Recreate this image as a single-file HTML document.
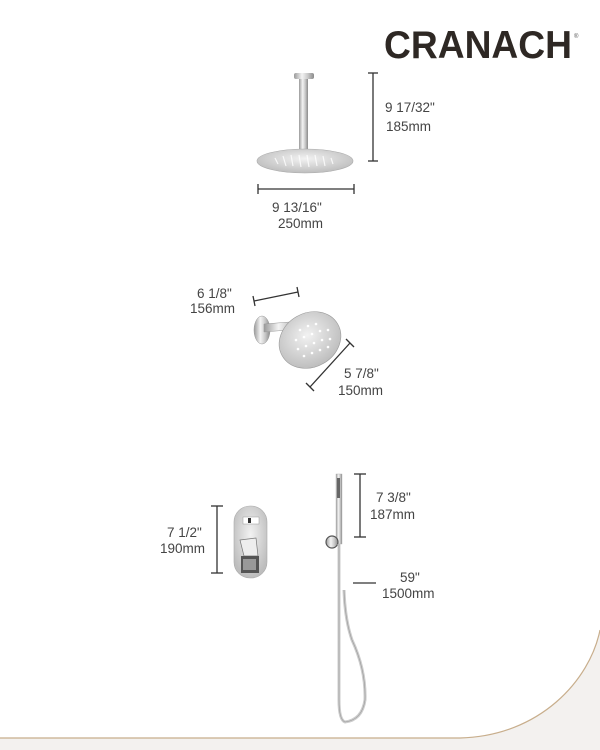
<!DOCTYPE html>
<html><head><meta charset="utf-8"><style>
html,body{margin:0;padding:0;background:#fff}
svg{display:block}
text{font-family:"Liberation Sans",sans-serif;fill:#444}
</style></head><body>
<svg width="600" height="750" viewBox="0 0 600 750" xmlns="http://www.w3.org/2000/svg">
<defs>
<linearGradient id="chrome" x1="0" y1="0" x2="1" y2="0">
<stop offset="0" stop-color="#9a9a9a"/><stop offset="0.4" stop-color="#f4f4f4"/><stop offset="0.7" stop-color="#c8c8c8"/><stop offset="1" stop-color="#8a8a8a"/>
</linearGradient>
<radialGradient id="disc" cx="0.5" cy="0.4" r="0.6">
<stop offset="0" stop-color="#f2f2f2"/><stop offset="1" stop-color="#bdbdbd"/>
</radialGradient>
</defs>
<!-- bottom grey region with curve -->
<path d="M0,738 L460,738 C540,736 590,680 600,630 L600,750 L0,750 Z" fill="#f3f1ef"/>
<path d="M0,738 L460,738 C540,736 590,680 600,630" fill="none" stroke="#c8ae8c" stroke-width="1.2"/>
<!-- logo -->
<text x="384" y="58" font-size="39" font-weight="bold" style="fill:#2e2824" textLength="188" lengthAdjust="spacingAndGlyphs">CRANACH</text>
<text x="574" y="38" font-size="6" style="fill:#555">®</text>
<!-- ceiling shower -->
<rect x="294" y="73" width="20" height="6" rx="2" fill="url(#chrome)"/>
<rect x="299" y="79" width="9" height="70" fill="url(#chrome)"/>
<ellipse cx="305" cy="161" rx="48" ry="12" fill="url(#disc)" stroke="#aaa" stroke-width="0.6"/>
<g stroke="#fff" stroke-width="1.2" opacity="0.8">
<line x1="275" y1="158" x2="278" y2="164"/><line x1="283" y1="156" x2="286" y2="166"/><line x1="291" y1="155" x2="293" y2="166"/><line x1="299" y1="155" x2="301" y2="167"/><line x1="307" y1="155" x2="309" y2="167"/><line x1="315" y1="155" x2="317" y2="166"/><line x1="323" y1="156" x2="325" y2="166"/><line x1="331" y1="158" x2="333" y2="164"/>
</g>
<g stroke="#333" stroke-width="1.3" fill="none">
<line x1="373" y1="73" x2="373" y2="161"/><line x1="368" y1="73" x2="378" y2="73"/><line x1="368" y1="161" x2="378" y2="161"/>
<line x1="258" y1="189" x2="354" y2="189"/><line x1="258" y1="184" x2="258" y2="194"/><line x1="354" y1="184" x2="354" y2="194"/>
<!-- wall arm dims -->
<line x1="254" y1="301" x2="298" y2="292"/><line x1="253" y1="296" x2="255" y2="306"/><line x1="297" y1="287" x2="299" y2="297"/>
<line x1="310" y1="387" x2="350" y2="343"/><line x1="306" y1="383" x2="314" y2="391"/><line x1="346" y1="339" x2="354" y2="347"/>
<!-- valve dims -->
<line x1="217" y1="506" x2="217" y2="573"/><line x1="211" y1="506" x2="223" y2="506"/><line x1="211" y1="573" x2="223" y2="573"/>
<line x1="360" y1="474" x2="360" y2="537"/><line x1="354" y1="474" x2="366" y2="474"/><line x1="354" y1="537" x2="366" y2="537"/>
<line x1="353" y1="583" x2="376" y2="583"/>
</g>
<text x="385" y="112" font-size="13.5">9 17/32"</text>
<text x="386" y="131" font-size="13.5">185mm</text>
<text x="272" y="212" font-size="13.5">9 13/16"</text>
<text x="278" y="228" font-size="13.5">250mm</text>
<text x="197" y="298" font-size="13.5">6 1/8"</text>
<text x="190" y="313" font-size="13.5">156mm</text>
<text x="344" y="378" font-size="13.5">5 7/8"</text>
<text x="338" y="395" font-size="13.5">150mm</text>
<text x="167" y="537" font-size="13.5">7 1/2"</text>
<text x="160" y="553" font-size="13.5">190mm</text>
<text x="376" y="502" font-size="13.5">7 3/8"</text>
<text x="370" y="519" font-size="13.5">187mm</text>
<text x="400" y="582" font-size="13.5">59"</text>
<text x="382" y="598" font-size="13.5">1500mm</text>
<!-- wall shower -->
<ellipse cx="262" cy="330" rx="8" ry="14" fill="url(#chrome)" stroke="#999" stroke-width="0.5"/>
<path d="M264,324 L290,322 Q296,323 300,330 L296,334 Q293,329 288,330 L264,332 Z" fill="url(#chrome)" stroke="#999" stroke-width="0.5"/>
<ellipse cx="310" cy="340" rx="32" ry="27" transform="rotate(-30 310 340)" fill="url(#disc)" stroke="#999" stroke-width="0.6"/>
<g fill="#fff">
<circle cx="300" cy="330" r="1.3"/><circle cx="308" cy="326" r="1.3"/><circle cx="316" cy="324" r="1.3"/><circle cx="296" cy="340" r="1.3"/><circle cx="304" cy="337" r="1.3"/><circle cx="312" cy="334" r="1.3"/><circle cx="320" cy="331" r="1.3"/><circle cx="328" cy="330" r="1.3"/><circle cx="298" cy="349" r="1.3"/><circle cx="306" cy="346" r="1.3"/><circle cx="314" cy="343" r="1.3"/><circle cx="322" cy="340" r="1.3"/><circle cx="330" cy="339" r="1.3"/><circle cx="304" cy="356" r="1.3"/><circle cx="312" cy="353" r="1.3"/><circle cx="320" cy="350" r="1.3"/><circle cx="328" cy="347" r="1.3"/>
</g>
<!-- valve -->
<rect x="234" y="506" width="33" height="72" rx="16" fill="url(#disc)" stroke="#aaa" stroke-width="0.6"/>
<rect x="243" y="517" width="16" height="7" fill="#fff" stroke="#999" stroke-width="0.5"/><rect x="248" y="518" width="3" height="5" fill="#333"/>
<path d="M240,540 L256,538 L258,556 L244,556 Z" fill="#eee" stroke="#777" stroke-width="0.7"/>
<rect x="241" y="556" width="18" height="17" fill="#555"/><rect x="243" y="559" width="13" height="11" fill="#999"/>
<!-- hand shower -->
<rect x="336" y="474" width="6" height="70" fill="url(#chrome)" stroke="#aaa" stroke-width="0.4"/>
<rect x="337" y="478" width="3" height="20" fill="#666"/>
<circle cx="332" cy="542" r="6" fill="url(#chrome)" stroke="#555" stroke-width="1.2"/>
<path d="M339,544 L339,700 Q339,720 345,722 Q362,720 365,700 Q366,670 352,640 Q345,620 344,590" fill="none" stroke="#ccc" stroke-width="3"/>
<path d="M339,544 L339,700 Q339,720 345,722 Q362,720 365,700 Q366,670 352,640 Q345,620 344,590" fill="none" stroke="#999" stroke-width="0.6"/>
</svg>
</body></html>
